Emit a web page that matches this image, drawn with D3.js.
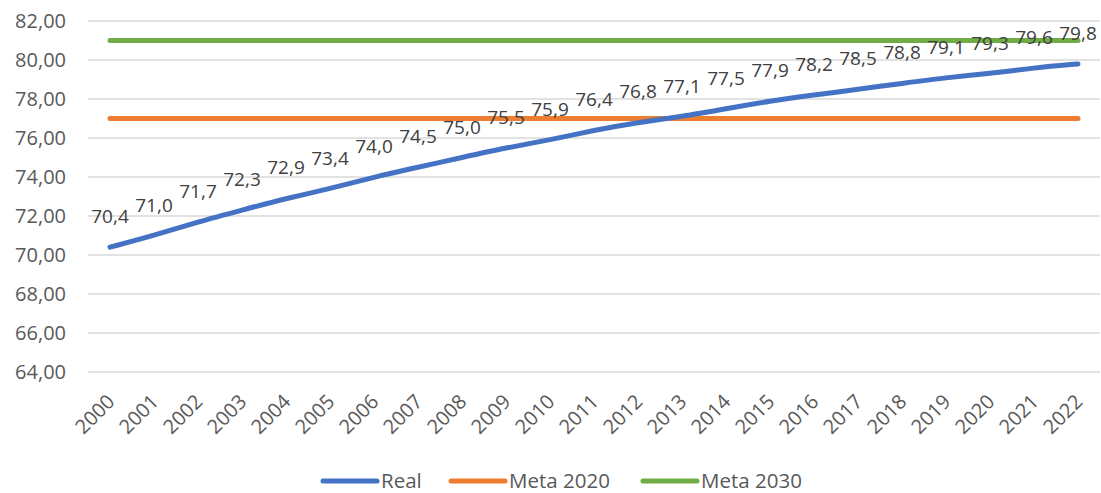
<!DOCTYPE html>
<html lang="pt">
<head>
<meta charset="UTF-8">
<title>Real vs Meta</title>
<script src="https://d3js.org/d3.v7.min.js"></script>
<style>
    body { margin: 0; background: #fff; font-family: 'Open Sans', 'Noto Sans', sans-serif; }
    .grid line { stroke: #d9d9d9; stroke-width: 1.3px; }
    .axis text { fill: #595959; font-size: 20px; }
    .dlabel { fill: #404040; font-size: 19px; text-anchor: middle; }
    .legend text { fill: #595959; font-size: 20.5px; }
</style>
</head>
<body>
<div id="chart"></div>
<script>
    const years = d3.range(2000, 2023).map(String);
    const real = [70.4, 71.0, 71.7, 72.3, 72.9, 73.4, 74.0, 74.5, 75.0, 75.5, 75.9, 76.4,
                  76.8, 77.1, 77.5, 77.9, 78.2, 78.5, 78.8, 79.1, 79.3, 79.6, 79.8];
    const meta2020 = years.map(() => 77);
    const meta2030 = years.map(() => 81);
    const yTicks = [64, 66, 68, 70, 72, 74, 76, 78, 80, 82];

    const width = 1101, height = 493;
    const plotLeft = 88, plotRight = 1100, plotTop = 21, plotBottom = 372;

    const svg = d3.select("#chart").append("svg")
        .attr("width", width)
        .attr("height", height);

    const x = d3.scaleBand().domain(years).range([plotLeft, plotRight]);
    const y = d3.scaleLinear().domain([64, 82]).range([plotBottom, plotTop]);
    const fmt = v => d3.format(".2f")(v).replace(".", ",");

    // gridlines
    svg.append("g").attr("class", "grid")
        .selectAll("line").data(yTicks).join("line")
        .attr("x1", plotLeft).attr("x2", plotRight)
        .attr("y1", d => y(d)).attr("y2", d => y(d));

    // y axis labels
    svg.append("g").attr("class", "axis")
        .selectAll("text").data(yTicks).join("text")
        .attr("x", 66).attr("y", d => y(d))
        .attr("dy", "0.35em")
        .attr("text-anchor", "end")
        .text(fmt);

    // x axis labels
    svg.append("g").attr("class", "axis")
        .selectAll("text").data(years).join("text")
        .attr("text-anchor", "end")
        .attr("transform", d => `translate(${x(d) + x.bandwidth() / 2 + 1},${plotBottom + 26}) rotate(-45)`)
        .attr("dy", "0.35em")
        .text(d => d);

    const cx = d => x(d) + x.bandwidth() / 2;
    // smoothed line like the spreadsheet's
    const line = d3.line()
        .x((d, i) => cx(years[i]))
        .y(d => y(d))
        .curve(d3.curveBasis);

    const series = [
        { name: "Real", values: real, color: "#4472C4" },
        { name: "Meta 2020", values: meta2020, color: "#ED7D31" },
        { name: "Meta 2030", values: meta2030, color: "#70AD47" }
    ];

    // draw green, orange then blue on top
    [series[2], series[1], series[0]].forEach(s => {
        svg.append("path")
            .datum(s.values)
            .attr("fill", "none")
            .attr("stroke", s.color)
            .attr("stroke-width", 5)
            .attr("stroke-linecap", "round")
            .attr("stroke-linejoin", "round")
            .attr("d", line);
    });

    // data labels on Real
    svg.append("g")
        .selectAll("text").data(real).join("text")
        .attr("class", "dlabel")
        .attr("x", (d, i) => cx(years[i]))
        .attr("y", d => y(d) - 24)
        .text(d => d3.format(".1f")(d).replace(".", ","));

    // legend
    const legendX = [323, 451, 643];
    const lg = svg.append("g").attr("class", "legend");
    series.forEach((s, i) => {
        lg.append("line")
            .attr("x1", legendX[i]).attr("x2", legendX[i] + 54)
            .attr("y1", 481).attr("y2", 481)
            .attr("stroke", s.color).attr("stroke-width", 5)
            .attr("stroke-linecap", "round");
        lg.append("text")
            .attr("x", legendX[i] + 58).attr("y", 481)
            .attr("dy", "0.35em")
            .text(s.name);
    });
</script>
</body>
</html>
